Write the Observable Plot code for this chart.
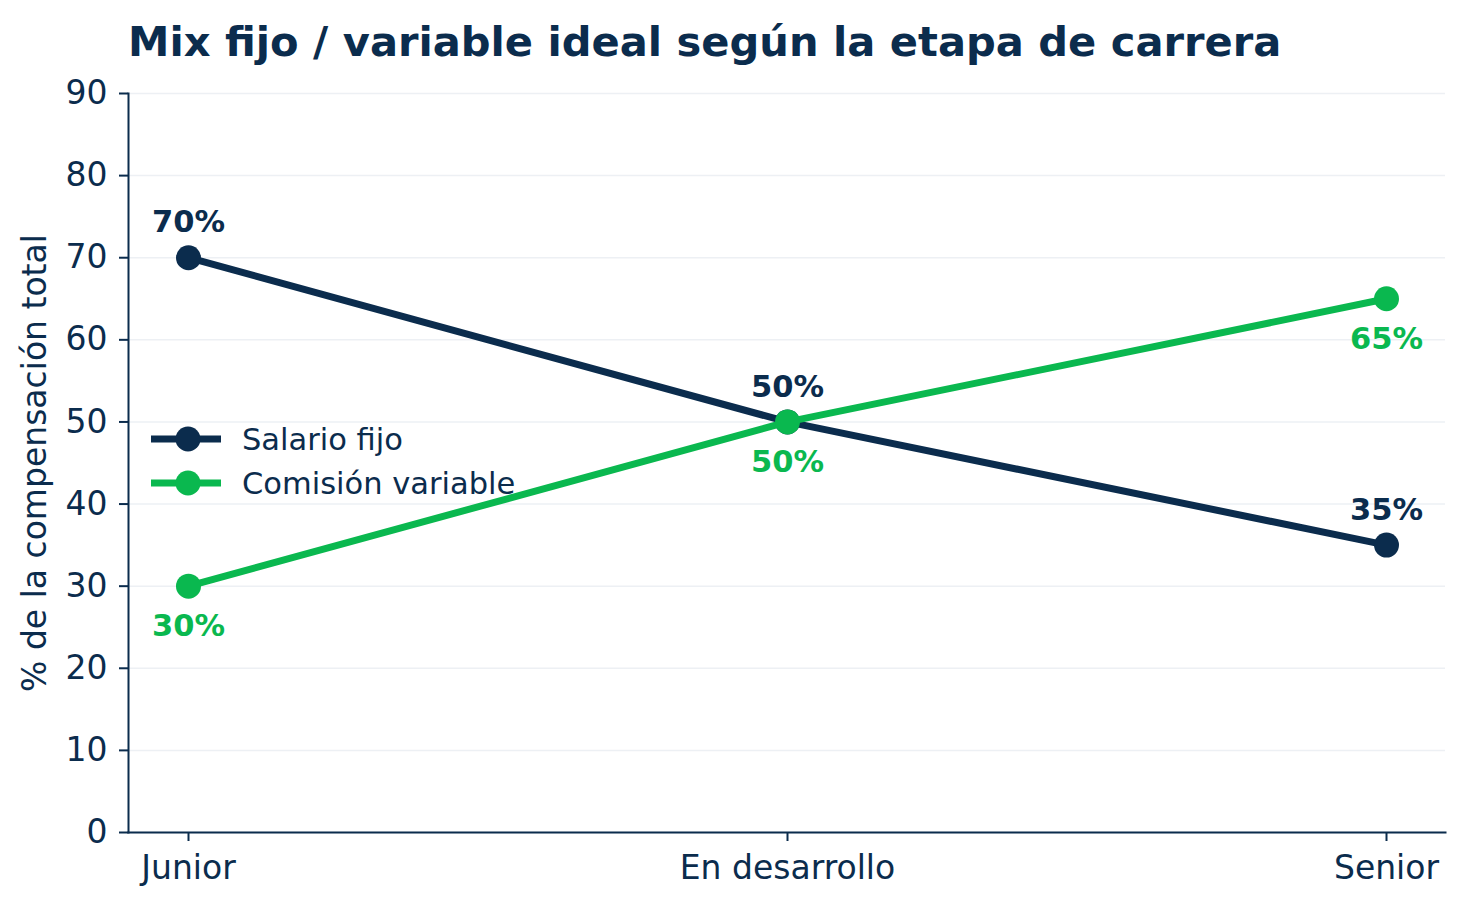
<!DOCTYPE html>
<html>
<head>
<meta charset="utf-8">
<script src="https://cdn.jsdelivr.net/npm/d3@7"></script>
<script src="https://cdn.jsdelivr.net/npm/@observablehq/plot@0.6"></script>
<style>
  html, body { margin: 0; padding: 0; background: #fff; }
  body { width: 1465px; height: 905px; position: relative; overflow: hidden; font-family: "DejaVu Sans", sans-serif; }
  #title { position: absolute; left: 128px; top: 21px; font-size: 41.6px; line-height: 42px; font-weight: bold; color: #0b2c4d; white-space: nowrap; }
  #chart { position: absolute; left: 0; top: 0; }
  #legend { position: absolute; left: 151px; top: 417px; font-size: 30.5px; color: #0b2c4d; }
  .row { display: flex; align-items: center; height: 44px; }
  .row svg { margin-right: 21px; }
</style>
</head>
<body>
<div id="chart"></div>
<div id="title">Mix fijo / variable ideal según la etapa de carrera</div>
<div id="legend"></div>
<script>
const etapas = ["Junior", "En desarrollo", "Senior"];
const salarioFijo = [70, 50, 35];
const comisionVariable = [30, 50, 65];
const seriesNames = ["Salario fijo", "Comisión variable"];
const seriesColors = ["#0b2c4d", "#0ab84f"];
const yTicks = [0, 10, 20, 30, 40, 50, 60, 70, 80, 90];
const yLabel = "% de la compensación total";

const navy = seriesColors[0], green = seriesColors[1];
const fijo = etapas.map((e, i) => ({etapa: e, value: salarioFijo[i]}));
const comision = etapas.map((e, i) => ({etapa: e, value: comisionVariable[i]}));

const chart = Plot.plot({
  width: 1465,
  height: 905,
  marginTop: 93,
  marginBottom: 73,
  marginLeft: 128,
  marginRight: 20,
  style: {fontFamily: "DejaVu Sans", color: navy, background: "#fff", overflow: "visible"},
  x: {type: "point", domain: etapas, padding: 0.098},
  y: {domain: [0, 90]},
  marks: [
    Plot.gridY(yTicks, {stroke: "#edf0f4", strokeOpacity: 1, strokeWidth: 1.5}),
    Plot.axisY(yTicks, {tickSize: 9, tickPadding: 12, fontSize: 33, label: null, strokeWidth: 2}),
    Plot.axisX({tickSize: 9, tickPadding: 14, fontSize: 33, label: null, strokeWidth: 2}),
    Plot.frame({anchor: "left", stroke: navy, strokeWidth: 2}),
    Plot.frame({anchor: "bottom", stroke: navy, strokeWidth: 2}),
    Plot.text([yLabel], {frameAnchor: "left", textAnchor: "middle", rotate: -90, dx: -93, fontSize: 33, fill: navy}),
    Plot.line(fijo, {x: "etapa", y: "value", stroke: navy, strokeWidth: 7}),
    Plot.dot(fijo, {x: "etapa", y: "value", r: 12.5, fill: navy}),
    Plot.line(comision, {x: "etapa", y: "value", stroke: green, strokeWidth: 7}),
    Plot.dot(comision, {x: "etapa", y: "value", r: 12.5, fill: green}),
    Plot.text(fijo, {x: "etapa", y: "value", text: d => d.value + "%", dy: -35, fill: navy, fontWeight: "bold", fontSize: 30.5}),
    Plot.text(comision, {x: "etapa", y: "value", text: d => d.value + "%", dy: 40, fill: green, fontWeight: "bold", fontSize: 30.5})
  ]
});
document.getElementById("chart").appendChild(chart);

const legend = document.getElementById("legend");
seriesNames.forEach((name, i) => {
  const row = document.createElement("div");
  row.className = "row";
  row.innerHTML = `<svg width="70" height="30"><line x1="0" y1="15" x2="70" y2="15" stroke="${seriesColors[i]}" stroke-width="7"/><circle cx="37" cy="15" r="12.5" fill="${seriesColors[i]}"/></svg><span>${name}</span>`;
  legend.appendChild(row);
});
</script>
</body>
</html>
